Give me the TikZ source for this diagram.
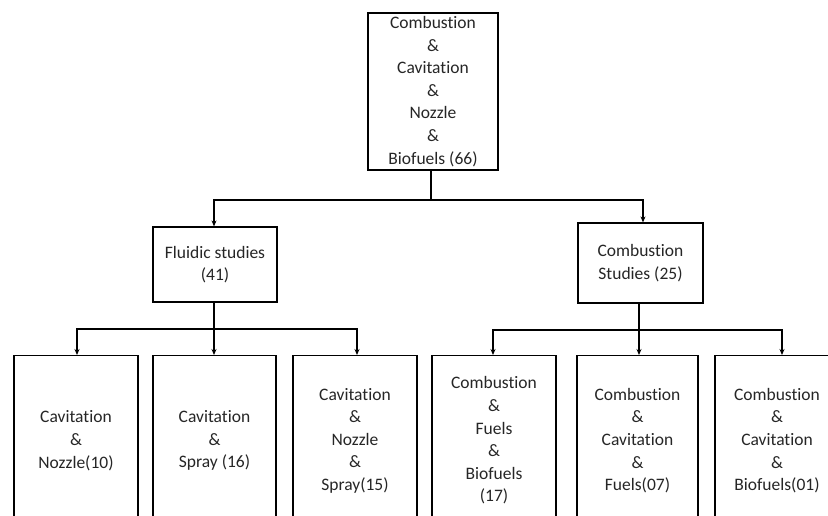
\documentclass[tikz,border=0pt]{standalone}
\usepackage{fontspec}
\setmainfont{Carlito}[Ligatures=CommonOff]
\usetikzlibrary{arrows.meta}
\begin{document}
\begin{tikzpicture}[x=1pt,y=-1pt,
  box/.style={draw=black,line width=1.2pt,align=center,inner sep=0pt,
    font=\fontsize{17.5}{22.6}\selectfont,text=black!85},
  arr/.style={line width=1.2pt,-{Stealth[length=6pt,width=5pt]}},
  ln/.style={line width=1.2pt}]
\useasboundingbox (0,0) rectangle (828,515);
\clip (0,0) rectangle (828,515);
\fill[white] (0,0) rectangle (828,515);
\node[box,minimum width=130pt,minimum height=157pt] (top) at (433,91.5)
  {Combustion\\\&\\Cavitation\\\&\\Nozzle\\\&\\Biofuels (66)};
\node[box,minimum width=124pt,minimum height=75pt] (fluid) at (215,264.5)
  {Fluidic studies\\(41)};
\node[box,minimum width=125pt,minimum height=80pt] (comb) at (640.5,263)
  {Combustion\\Studies (25)};
\node[box,minimum width=124pt,minimum height=170pt,anchor=north] (b1) at (76,355)
  {Cavitation\\\&\\Nozzle(10)};
\node[box,minimum width=123pt,minimum height=170pt,anchor=north] (b2) at (214.5,355)
  {Cavitation\\\&\\Spray (16)};
\node[box,minimum width=124pt,minimum height=170pt,anchor=north] (b3) at (355,355)
  {Cavitation\\\&\\Nozzle\\\&\\Spray(15)};
\node[box,minimum width=124pt,minimum height=170pt,anchor=north] (b4) at (494,355)
  {Combustion\\\&\\Fuels\\\&\\Biofuels\\(17)};
\node[box,minimum width=121pt,minimum height=170pt,anchor=north] (b5) at (637.5,355)
  {Combustion\\\&\\Cavitation\\\&\\Fuels(07)};
\node[box,minimum width=124pt,minimum height=170pt,anchor=north] (b6) at (777,355)
  {Combustion\\\&\\Cavitation\\\&\\Biofuels(01)};
% top level connectors
\coordinate (j0) at (431,200);
\draw[ln] (431,170) -- (j0);
\draw[arr] (j0) -| ([xshift=-1pt]fluid.north);
\draw[arr] (j0) -| ([xshift=2.5pt]comb.north);
% fluidic connectors
\coordinate (j1) at (214,329);
\draw[ln] ([xshift=-1pt]fluid.south) -- (j1);
\draw[arr] (j1) -| ([xshift=1pt]b1.north);
\draw[arr] (j1) -- ([xshift=-0.5pt]b2.north);
\draw[arr] (j1) -| ([xshift=2pt]b3.north);
% combustion connectors
\coordinate (j2) at (639,330);
\draw[ln] ([xshift=-1.5pt]comb.south) -- (j2);
\draw[arr] (j2) -| ([xshift=-1pt]b4.north);
\draw[arr] (j2) -- ([xshift=1.5pt]b5.north);
\draw[arr] (j2) -| ([xshift=5pt]b6.north);
\end{tikzpicture}
\end{document}
